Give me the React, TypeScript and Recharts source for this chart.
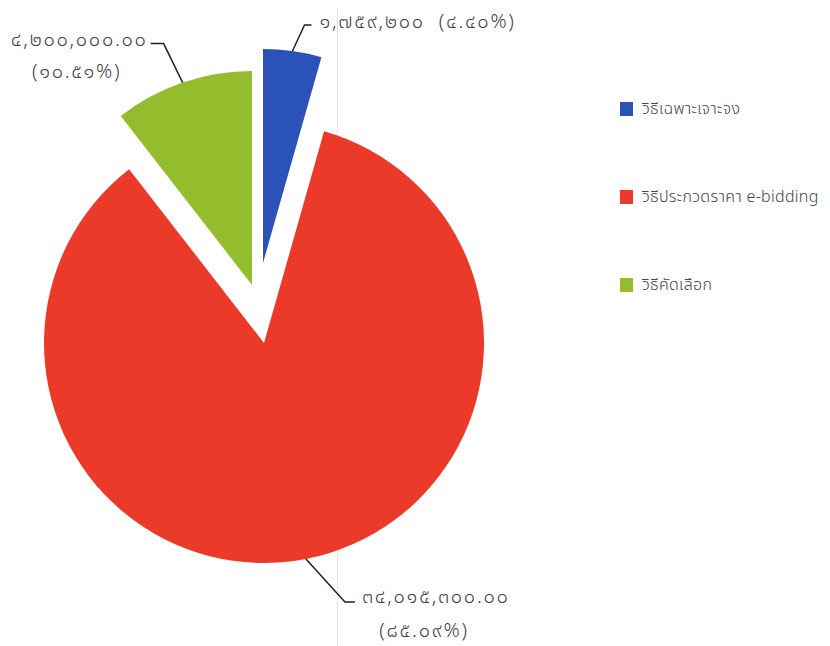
import React from 'react';
import { PieChart, Pie, Cell, Legend } from 'recharts';

const categories = ['วิธีเฉพาะเจาะจง', 'วิธีประกวดราคา e-bidding', 'วิธีคัดเลือก'];
const amounts = [1759200, 34015300, 4200000];
const amountLabels = ['๑,๗๕๙,๒๐๐', '๓๔,๐๑๕,๓๐๐.๐๐', '๔,๒๐๐,๐๐๐.๐๐'];
const percentLabels = ['๔.๔๐%', '๘๕.๐๙%', '๑๐.๕๑%'];
const colors = ['#2a52b8', '#ec3a2a', '#93bd2c'];

const data = categories.map((name, i) => ({ name, value: amounts[i] }));

const RAD = Math.PI / 180;
const FONT = "'Noto Sans Thai', 'Noto Sans', 'DejaVu Sans', sans-serif";
const TEXT = '#444';

// where each slice's pie centre sits (exploded look)
const pieCenters = [
  { cx: 255, cy: 263, r: 214 },
  { cx: 256, cy: 343, r: 220 },
  { cx: 244, cy: 285, r: 214 },
];

function arcPoint(cx: number, cy: number, r: number, angle: number) {
  return { x: cx + Math.cos(-angle * RAD) * r, y: cy + Math.sin(-angle * RAD) * r };
}

const textProps = {
  fill: TEXT,
  fontSize: 20,
  fontFamily: FONT,
  fontWeight: 300,
  letterSpacing: 1.7,
  dominantBaseline: 'middle' as const,
  style: { whiteSpace: 'pre' as const },
};

function makeLabel(target: number) {
  return (props: any) => {
    const { cx, cy, midAngle, outerRadius, index } = props;
    if (index !== target) return null;
    const p = arcPoint(cx, cy, outerRadius, midAngle);
    if (target === 0) {
      const a = { x: p.x + 12, y: p.y - 26 };
      const b = { x: a.x + 7, y: a.y };
      return (
        <g>
          <polyline points={`${p.x},${p.y} ${a.x},${a.y} ${b.x},${b.y}`} fill="none" stroke="#222" strokeWidth={1.5} />
          <text x={b.x + 8} y={a.y - 3} {...textProps}>
            {`${amountLabels[0]}  (${percentLabels[0]})`}
          </text>
        </g>
      );
    }
    if (target === 2) {
      const a = { x: p.x - 19, y: p.y - 39 };
      const b = { x: a.x - 13, y: a.y };
      return (
        <g>
          <polyline points={`${p.x},${p.y} ${a.x},${a.y} ${b.x},${b.y}`} fill="none" stroke="#222" strokeWidth={1.5} />
          <text x={b.x - 3} y={a.y - 3} textAnchor="end" {...textProps}>
            {amountLabels[2]}
          </text>
          <text x={b.x - 74} y={a.y + 29} textAnchor="middle" {...textProps}>
            {`(${percentLabels[2]})`}
          </text>
        </g>
      );
    }
    const a = { x: p.x + 39, y: p.y + 43 };
    const b = { x: a.x + 10, y: a.y };
    return (
      <g>
        <polyline points={`${p.x},${p.y} ${a.x},${a.y} ${b.x},${b.y}`} fill="none" stroke="#222" strokeWidth={1.5} />
        <text x={b.x + 7} y={a.y - 5} {...textProps}>
          {amountLabels[1]}
        </text>
        <text x={b.x + 69} y={a.y + 29} textAnchor="middle" {...textProps}>
          {`(${percentLabels[1]})`}
        </text>
      </g>
    );
  };
}

const renderLegend = () => (
  <div style={{ fontFamily: FONT, fontSize: 16, fontWeight: 300, letterSpacing: 0.3, color: TEXT, whiteSpace: 'nowrap' }}>
    {categories.map((c, i) => (
      <div key={c} style={{ height: 88, display: 'flex', alignItems: 'flex-start' }}>
        <span style={{ display: 'inline-block', flex: 'none', width: 13, height: 14, background: colors[i], marginRight: 9, marginTop: 2 }} />
        <span style={{ lineHeight: '18px' }}>{c}</span>
      </div>
    ))}
  </div>
);

export default function App() {
  return (
    <div style={{ position: 'relative', width: 814, height: 646, marginTop: -8 }}>
      <div style={{ position: 'absolute', left: 329, top: 0, width: 1, height: 646, background: '#e4e4e4' }} />
      <PieChart width={814} height={646} margin={{ top: 0, right: 0, bottom: 0, left: 0 }}>
        {[0, 1, 2].map((t) => (
          <Pie
            key={t}
            data={data}
            dataKey="value"
            nameKey="name"
            cx={pieCenters[t].cx}
            cy={pieCenters[t].cy}
            outerRadius={pieCenters[t].r}
            startAngle={90}
            endAngle={-270}
            stroke="none"
            label={makeLabel(t)}
            labelLine={false}
            isAnimationActive={false}
          >
            {data.map((d, i) => (
              <Cell key={d.name} fill={i === t ? colors[i] : 'transparent'} stroke="none" />
            ))}
          </Pie>
        ))}
        <Legend
          content={renderLegend}
          layout="vertical"
          verticalAlign="top"
          align="right"
          wrapperStyle={{ position: 'absolute', left: 612, top: 100, width: 210 }}
        />
      </PieChart>
    </div>
  );
}
